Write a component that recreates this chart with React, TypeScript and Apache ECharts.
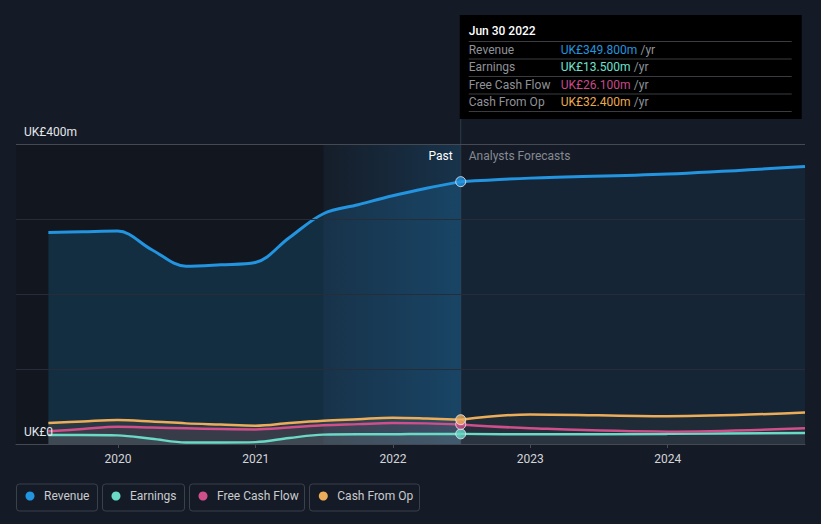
import React, { useEffect, useRef } from "react";
import * as echarts from "echarts";

// ---------- data ----------
const pastDates = [
  "2019-06-30", "2019-09-30", "2019-12-31", "2020-03-31", "2020-06-30",
  "2020-09-30", "2020-12-31", "2021-03-31", "2021-06-30", "2021-09-30",
  "2021-12-31", "2022-03-31", "2022-06-30",
];
const revenuePast = [282, 283, 284, 259, 237, 239, 242, 275, 307, 319, 331, 341, 349.8];
const earningsPast = [12, 12, 11.5, 7, 2, 2, 2.5, 8, 12.5, 13, 13, 13.5, 13.5];
const fcfPast = [17, 20, 23, 22, 21, 20, 19.5, 22, 25, 26.5, 28, 27.5, 26.1];
const cfoPast = [28, 30, 32, 30, 27.5, 26, 24.5, 28, 31, 33, 35, 34, 32.4];

const forecastDates = ["2022-06-30", "2022-12-31", "2023-12-31", "2024-12-31"];
const revenueForecast = [349.8, 354.5, 360, 370];
const earningsForecast = [13.5, 13, 13.5, 14.7];
const fcfForecast = [26.1, 21, 16.5, 21];
const cfoForecast = [32.4, 39.5, 37, 42];

const yearTicks = ["2020-01-01", "2021-01-01", "2022-01-01", "2023-01-01", "2024-01-01"];
const xMinDate = "2019-04-05";
const xMaxDate = "2024-12-31";
const highlightStart = "2021-06-30";
const pastEnd = "2022-06-30";
const yMin = 0;
const yMax = 400;
const yInterval = 100;

const seriesNames = ["Revenue", "Earnings", "Free Cash Flow", "Cash From Op"];
const seriesColors = ["#2394df", "#6ad9c6", "#cf4f8a", "#ecad5a"];
const valueColors = ["#2394df", "#6fe0cf", "#c9498a", "#eaa94e"];

// ---------- helpers ----------
const BG = "#151b26";
const FONT = "Roboto, 'Noto Sans', sans-serif";
const ts = (s: string) => new Date(s + "T00:00:00").getTime();
const MONTHS = ["Jan", "Feb", "Mar", "Apr", "May", "Jun", "Jul", "Aug", "Sep", "Oct", "Nov", "Dec"];
const fmtDate = (s: string) => {
  const d = new Date(s + "T00:00:00");
  return `${MONTHS[d.getMonth()]} ${d.getDate()} ${d.getFullYear()}`;
};
const pair = (dates: string[], vals: number[]) => dates.map((d, i) => [ts(d), vals[i]]);
const rgba = (hex: string, a: number) => {
  const n = parseInt(hex.slice(1), 16);
  return `rgba(${(n >> 16) & 255},${(n >> 8) & 255},${n & 255},${a})`;
};

const pastSets = [revenuePast, earningsPast, fcfPast, cfoPast];
const forecastSets = [revenueForecast, earningsForecast, fcfForecast, cfoForecast];

function buildOption() {
  const series: any[] = [];
  seriesNames.forEach((name, i) => {
    const isRev = i === 0;
    const past: any = {
      name,
      type: "line",
      color: seriesColors[i],
      data: pair(pastDates, pastSets[i]),
      smooth: 0.35,
      symbol: "none",
      lineStyle: { width: isRev ? 3 : 2.5, color: seriesColors[i] },
      areaStyle: { color: rgba(seriesColors[i], isRev ? 0.26 : 0.14), origin: "start" },
      z: isRev ? 2 : 3,
      silent: true,
    };
    if (isRev) {
      past.markArea = {
        silent: true,
        data: [
          [
            { xAxis: ts(xMinDate), itemStyle: { color: "rgba(0,0,0,0.16)" } },
            { xAxis: ts(highlightStart) },
          ],
          [
            {
              xAxis: ts(highlightStart),
              itemStyle: {
                color: {
                  type: "linear", x: 0, y: 0, x2: 1, y2: 0,
                  colorStops: [
                    { offset: 0, color: "rgba(35,148,223,0.02)" },
                    { offset: 1, color: "rgba(35,148,223,0.2)" },
                  ],
                },
              },
            },
            { xAxis: ts(pastEnd) },
          ],
        ],
      };
    }
    series.push(past);
    series.push({
      name,
      type: "line",
      color: seriesColors[i],
      data: pair(forecastDates, forecastSets[i]),
      smooth: 0.35,
      symbol: "none",
      lineStyle: { width: isRev ? 3 : 2.5, color: seriesColors[i] },
      areaStyle: { color: rgba(seriesColors[i], isRev ? 0.13 : 0.07), origin: "start" },
      z: isRev ? 2 : 3,
      silent: true,
    });
  });
  seriesNames.forEach((name, i) => {
    series.push({
      name: name + " point",
      type: "scatter",
      data: [[ts(pastEnd), pastSets[i][pastSets[i].length - 1]]],
      symbol: "circle",
      symbolSize: 10,
      itemStyle: { color: seriesColors[i], borderColor: "#e8eef5", borderWidth: 1 },
      z: 5 + i,
      silent: true,
    });
  });

  const legendLefts = [25.5, 111.5, 198.5, 318.8];
  const legends = seriesNames.map((name, i) => ({
    data: [name],
    left: legendLefts[i],
    top: 490,
    padding: 0,
    itemWidth: 14,
    itemHeight: 9,
    icon: "circle",
    selectedMode: false,
    textStyle: { color: "#c9cbce", fontSize: 12, fontFamily: FONT, padding: [0, 0, 0, 2] },
  }));

  const gridLineColors = ["#454a52", "#262d38", "#262d38", "#262d38", "#454a52"];
  const yearTickValues = yearTicks.map(ts);

  return {
    animation: false,
    backgroundColor: BG,
    textStyle: { fontFamily: FONT },
    grid: { left: 16, right: 16, top: 144, bottom: 80 },
    legend: legends,
    xAxis: {
      type: "value",
      min: ts(xMinDate),
      max: ts(xMaxDate),
      axisLine: { show: true, lineStyle: { color: "#474c55", width: 1 } },
      axisTick: {
        show: true,
        length: 4,
        lineStyle: { color: "#474c55" },
        customValues: yearTickValues,
      },
      splitLine: { show: false },
      axisLabel: {
        customValues: yearTickValues,
        formatter: (v: number) => String(new Date(v).getFullYear()),
        color: "#d3d5d8",
        fontSize: 12,
        fontFamily: FONT,
        margin: 9,
      },
    },
    yAxis: {
      type: "value",
      min: yMin,
      max: yMax,
      interval: yInterval,
      axisLine: { show: false },
      axisTick: { show: false },
      splitLine: { show: true, lineStyle: { color: gridLineColors, width: 1 } },
      axisLabel: {
        inside: true,
        margin: 8,
        verticalAlign: "bottom",
        lineHeight: 14,
        padding: [0, 0, 5, 0],
        color: "#e4e6e9",
        fontSize: 12,
        fontFamily: FONT,
        formatter: (v: number) => (v === yMin ? "UK£0" : v === yMax ? `UK£${yMax}m` : ""),
      },
      z: 10,
    },
    series,
  };
}

function buildGraphic(px: number, gridBottomY: number, gridTopY: number) {
  const boxX = px - 1;
  const boxY = 15;
  const boxW = 342;
  const boxH = 104;
  const textX = boxX + 9;
  const valX = boxX + 101;
  const lineRight = boxX + 332;
  const els: any[] = [];
  els.push({
    type: "line",
    silent: true,
    z: 1,
    shape: { x1: px, y1: boxY + boxH, x2: px, y2: gridBottomY },
    style: { stroke: "#2b3a4c", lineWidth: 1 },
  });
  els.push({
    type: "rect",
    silent: true,
    z: 20,
    shape: { x: boxX, y: boxY, width: boxW, height: boxH },
    style: { fill: "#000000" },
  });
  els.push({
    type: "text",
    silent: true,
    z: 21,
    x: textX,
    y: boxY + 16,
    style: {
      text: fmtDate(pastEnd),
      fill: "#ffffff",
      font: `500 12px ${FONT}`,
      verticalAlign: "middle",
    },
  });
  const divYs = [41.5, 59, 76.5, 94, 111.5];
  divYs.forEach((y) =>
    els.push({
      type: "line",
      silent: true,
      z: 21,
      shape: { x1: textX, y1: y, x2: lineRight, y2: y },
      style: { stroke: "#3a3c41", lineWidth: 1 },
    })
  );
  const rowYs = [49.5, 67, 84.5, 102];
  seriesNames.forEach((name, i) => {
    const v = pastSets[i][pastSets[i].length - 1];
    els.push({
      type: "text",
      silent: true,
      z: 21,
      x: textX,
      y: rowYs[i],
      style: { text: name, fill: "#8f9298", font: `12px ${FONT}`, verticalAlign: "middle" },
    });
    els.push({
      type: "text",
      silent: true,
      z: 21,
      x: valX,
      y: rowYs[i],
      style: {
        text: `{v|UK£${v.toFixed(3)}m} {u|/yr}`,
        verticalAlign: "middle",
        rich: {
          v: { fill: valueColors[i], fontSize: 12, fontFamily: FONT },
          u: { fill: "#8f9298", fontSize: 12, fontFamily: FONT },
        },
      },
    });
  });
  els.push({
    type: "text",
    silent: true,
    z: 21,
    x: px - 8,
    y: gridTopY + 12,
    style: { text: "Past", fill: "#ffffff", font: `12px ${FONT}`, align: "right", verticalAlign: "middle" },
  });
  els.push({
    type: "text",
    silent: true,
    z: 21,
    x: px + 8,
    y: gridTopY + 12,
    style: { text: "Analysts Forecasts", fill: "#858a92", font: `12px ${FONT}`, verticalAlign: "middle" },
  });
  const boxes = [
    [16.5, 81],
    [102.5, 82],
    [189.5, 115],
    [309.5, 110],
  ];
  boxes.forEach(([x, w]) =>
    els.push({
      type: "rect",
      silent: true,
      z: 0,
      shape: { x, y: 484, width: w, height: 27, r: 3 },
      style: { fill: "transparent", stroke: "#3b414b", lineWidth: 1 },
    })
  );
  return els;
}

export default function App() {
  const ref = useRef<HTMLDivElement>(null);
  useEffect(() => {
    document.body.style.margin = "0";
    document.body.style.background = BG;
    const chart = echarts.init(ref.current!, null, { renderer: "svg" });
    chart.setOption(buildOption() as any);
    const px = chart.convertToPixel({ xAxisIndex: 0 }, ts(pastEnd)) as number;
    const yBottom = chart.convertToPixel({ yAxisIndex: 0 }, yMin) as number;
    const yTop = chart.convertToPixel({ yAxisIndex: 0 }, yMax) as number;
    chart.setOption({ graphic: buildGraphic(px, yBottom, yTop) } as any);
    return () => chart.dispose();
  }, []);
  return <div ref={ref} style={{ width: 821, height: 524 }} />;
}
